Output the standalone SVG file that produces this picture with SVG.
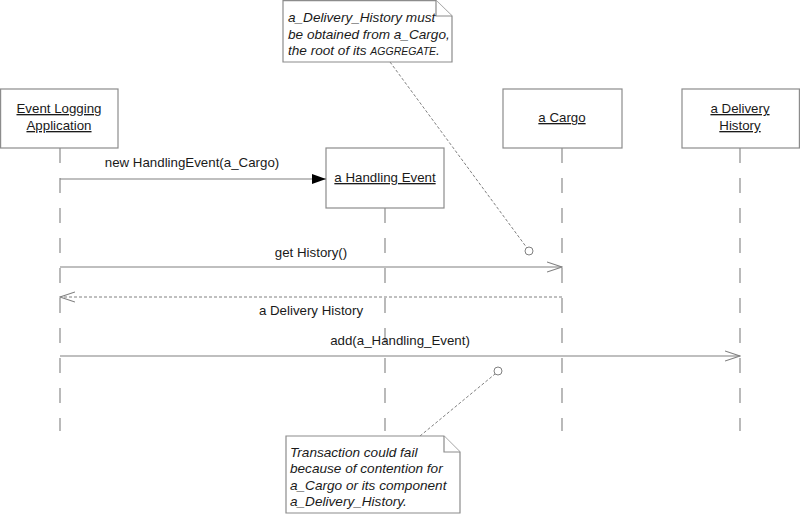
<svg xmlns="http://www.w3.org/2000/svg" width="800" height="514" viewBox="0 0 800 514">
<style>
.box{fill:#fff;stroke:#8c8c8c;stroke-width:1.2}
.life{stroke:#8c8c8c;stroke-width:1.2;stroke-dasharray:15 15;fill:none}
.msg{stroke:#808080;stroke-width:1.2;fill:none}
.ret{stroke:#808080;stroke-width:1;stroke-dasharray:3 2;fill:none}
.anch{stroke:#808080;stroke-width:1;stroke-dasharray:3 2;fill:none}
.t{font-family:"Liberation Sans",Arial,sans-serif;font-size:13.3px;fill:#1a1a1a}
.u{text-decoration:underline}
.c{text-anchor:middle}
.i{font-style:italic;font-size:13.6px}
.note{fill:#fff;stroke:#8c8c8c;stroke-width:1.2}
</style>
<defs>
<marker id="filled" viewBox="0 0 14 10" refX="14" refY="5" markerWidth="14" markerHeight="10" markerUnits="userSpaceOnUse" orient="auto">
<path d="M0,0 L14,5 L0,10 Z" fill="#000"/>
</marker>
<marker id="open" viewBox="0 0 16 12" refX="15" refY="6" markerWidth="16" markerHeight="12" markerUnits="userSpaceOnUse" orient="auto">
<path d="M0,1 L15,6 L0,11" fill="none" stroke="#808080" stroke-width="1.1"/>
</marker>
</defs>
<g id="lifelines">
<line class="life" x1="60" y1="148" x2="60" y2="431"/>
<line class="life" x1="385" y1="208" x2="385" y2="431"/>
<line class="life" x1="562" y1="148" x2="562" y2="431"/>
<line class="life" x1="740" y1="148" x2="740" y2="431"/>
</g>
<g id="node-event-logging">
<rect class="box" x="0.6" y="89" width="117.4" height="59"/>
<text class="t u c" x="59" y="113">Event Logging</text>
<text class="t u c" x="59" y="130">Application</text>
</g>
<g id="node-cargo">
<rect class="box" x="503" y="89" width="119" height="59"/>
<text class="t u c" x="562" y="122">a Cargo</text>
</g>
<g id="node-delivery-history">
<rect class="box" x="682" y="89" width="117.4" height="59"/>
<text class="t u c" x="740" y="113">a Delivery</text>
<text class="t u c" x="740" y="130">History</text>
</g>
<g id="node-handling-event">
<rect class="box" x="326" y="148" width="118" height="60"/>
<text class="t u c" x="385" y="182">a Handling Event</text>
</g>
<g id="connectors">
<line class="msg" x1="60" y1="179" x2="326" y2="179" marker-end="url(#filled)"/>
<text class="t c" x="192" y="167">new HandlingEvent(a_Cargo)</text>
<line class="msg" x1="60" y1="267" x2="562" y2="267" marker-end="url(#open)"/>
<text class="t c" x="311" y="257">get History()</text>
<line class="ret" x1="562" y1="297" x2="60" y2="297" marker-end="url(#open)"/>
<text class="t c" x="311" y="315">a Delivery History</text>
<line class="msg" x1="60" y1="356" x2="740" y2="356" marker-end="url(#open)"/>
<text class="t c" x="400" y="345">add(a_Handling_Event)</text>
<line class="anch" x1="390" y1="62" x2="527" y2="248"/>
<circle cx="529" cy="251" r="4" fill="#fff" stroke="#808080" stroke-width="1"/>
<line class="anch" x1="420" y1="436" x2="495" y2="374"/>
<circle cx="498" cy="371" r="4" fill="#fff" stroke="#808080" stroke-width="1"/>
</g>
<g id="note-aggregate">
<path class="note" d="M283,0.6 L436,0.6 L452,16 L452,62 L283,62 Z"/>
<path class="note" d="M436,0.6 L436,16 L452,16"/>
<text class="t i" x="288" y="22">a_Delivery_History must</text>
<text class="t i" x="288" y="39">be obtained from a_Cargo,</text>
<text class="t i" x="288" y="55">the root of its <tspan font-size="10.5">AGGREGATE</tspan>.</text>
</g>
<g id="note-transaction">
<path class="note" d="M286,436 L444,436 L460,452 L460,513 L286,513 Z"/>
<path class="note" d="M444,436 L444,452 L460,452"/>
<text class="t i" x="290" y="457">Transaction could fail</text>
<text class="t i" x="290" y="473">because of contention for</text>
<text class="t i" x="290" y="490">a_Cargo or its component</text>
<text class="t i" x="290" y="506">a_Delivery_History.</text>
</g>
</svg>
